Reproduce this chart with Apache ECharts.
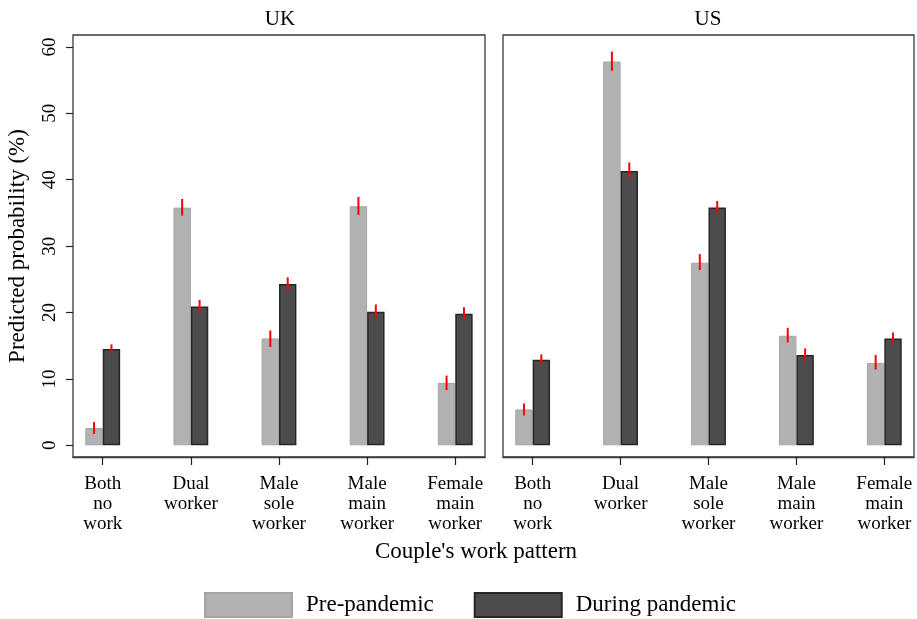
<!DOCTYPE html>
<html>
<head>
<meta charset="utf-8">
<script src="https://cdn.jsdelivr.net/npm/echarts@6/dist/echarts.min.js"></script>
<style>html,body{margin:0;padding:0;background:#fff}#c{width:917px;height:619px}</style>
</head>
<body>
<div id="c"></div>
<script>
// ---- data ----
const categories = ['Both\nno\nwork', 'Dual\nworker', 'Male\nsole\nworker', 'Male\nmain\nworker', 'Female\nmain\nworker'];
const panels = ['UK', 'US'];
const seriesNames = ['Pre-pandemic', 'During pandemic'];
const yTicks = [0, 10, 20, 30, 40, 50, 60];

const ukPre    = [2.6, 35.8, 16.1, 36.0, 9.4];
const ukPreLo  = [1.7, 34.6, 14.8, 34.7, 8.3];
const ukPreHi  = [3.5, 37.1, 17.3, 37.4, 10.5];
const ukDur    = [14.5, 20.9, 24.3, 20.1, 19.8];
const ukDurLo  = [13.9, 20.0, 23.4, 19.2, 19.0];
const ukDurHi  = [15.2, 21.9, 25.3, 21.2, 20.8];

const usPre    = [5.4, 57.8, 27.5, 16.5, 12.4];
const usPreLo  = [4.5, 56.4, 26.4, 15.5, 11.4];
const usPreHi  = [6.3, 59.3, 28.8, 17.7, 13.6];
const usDur    = [12.9, 41.3, 35.8, 13.6, 16.1];
const usDurLo  = [12.2, 40.3, 34.9, 12.8, 15.3];
const usDurHi  = [13.7, 42.6, 36.8, 14.6, 17.0];

// ---- styles ----
const FONT = "'Liberation Serif', 'Times New Roman', serif";
const BAR_W = 17.4;
const lightFill = '#b2b2b2', lightBorder = '#a4a4a4';
const darkFill = '#4c4c4c', darkBorder = '#262626';
const catIdx = categories.map((_, i) => i);

const grids = [
  {left: 73, top: 35, width: 412, height: 422},
  {left: 503, top: 35, width: 411, height: 422}
];

function xAxis(gi) {
  return {
    type: 'value', gridIndex: gi, min: -0.3375, max: 4.3375,
    splitLine: {show: false},
    axisLine: {show: true, onZero: false, lineStyle: {color: '#3a3a3a', width: 1.3}},
    axisTick: {show: true, inside: false, customValues: catIdx, length: 8, lineStyle: {color: '#222', width: 1.2}},
    axisLabel: {customValues: catIdx, formatter: v => categories[Math.round(v)], margin: 17,
      fontFamily: FONT, fontSize: 19, lineHeight: 20, color: '#000'}
  };
}
function yAxis(gi, showLabels) {
  return {
    type: 'value', gridIndex: gi, min: -1.76, max: 61.8,
    splitLine: {show: false}, axisLine: {show: false, onZero: false},
    axisTick: {show: showLabels, customValues: yTicks, length: 7, lineStyle: {color: '#222', width: 1.2}},
    axisLabel: {show: showLabels, customValues: yTicks, rotate: 90, margin: 13,
      fontFamily: FONT, fontSize: 19, color: '#000'},
    name: showLabels ? 'Predicted probability (%)' : '',
    nameLocation: 'middle', nameGap: 44, nameRotate: 90,
    nameTextStyle: {fontFamily: FONT, fontSize: 23, color: '#000'}
  };
}

function pairs(vals) { return vals.map((v, i) => [i, v]); }
function errData(lo, hi) { return lo.map((l, i) => [i, l, hi[i]]); }

function barSeries(name, gi, vals, fill, border, bw) {
  return {
    name: name, type: 'bar', xAxisIndex: gi, yAxisIndex: gi,
    barWidth: BAR_W, barGap: '0%', data: pairs(vals),
    itemStyle: {color: fill, borderColor: border, borderWidth: bw},
    emphasis: {disabled: true}, animation: false
  };
}
function errSeries(gi, lo, hi, offset) {
  return {
    type: 'custom', xAxisIndex: gi, yAxisIndex: gi, z: 10, animation: false,
    data: errData(lo, hi),
    renderItem: function (params, api) {
      const a = api.coord([api.value(0), api.value(1)]);
      const b = api.coord([api.value(0), api.value(2)]);
      return {
        type: 'line',
        shape: {x1: a[0] + offset, y1: a[1], x2: b[0] + offset, y2: b[1]},
        style: {stroke: '#ff0000', lineWidth: 2}
      };
    }
  };
}

const off = BAR_W / 2;
const option = {
  backgroundColor: '#fff',
  animation: false,
  grid: grids.map(g => Object.assign({show: true, borderColor: '#3a3a3a', borderWidth: 1.3, backgroundColor: 'transparent'}, g)),
  xAxis: [xAxis(0), xAxis(1)],
  yAxis: [yAxis(0, true), yAxis(1, false)],
  legend: {
    data: seriesNames, left: 204, top: 592, padding: 0, itemWidth: 87, itemHeight: 24, itemGap: 40,
    icon: 'rect',
    textStyle: {fontFamily: FONT, fontSize: 23, color: '#000', padding: [0, 0, 0, 9]}
  },
  graphic: [
    {type: 'text', style: {x: 280, y: 19, text: panels[0], textAlign: 'center', textVerticalAlign: 'middle', font: '21px ' + FONT, fill: '#000'}},
    {type: 'text', style: {x: 708, y: 19, text: panels[1], textAlign: 'center', textVerticalAlign: 'middle', font: '21px ' + FONT, fill: '#000'}},
    {type: 'text', style: {x: 476, y: 552, text: "Couple's work pattern", textAlign: 'center', textVerticalAlign: 'middle', font: '23px ' + FONT, fill: '#000'}}
  ],
  series: [
    barSeries(seriesNames[0], 0, ukPre, lightFill, lightBorder, 1),
    barSeries(seriesNames[1], 0, ukDur, darkFill, darkBorder, 1.5),
    barSeries(seriesNames[0], 1, usPre, lightFill, lightBorder, 1),
    barSeries(seriesNames[1], 1, usDur, darkFill, darkBorder, 1.5),
    errSeries(0, ukPreLo, ukPreHi, -off),
    errSeries(0, ukDurLo, ukDurHi, off),
    errSeries(1, usPreLo, usPreHi, -off),
    errSeries(1, usDurLo, usDurHi, off)
  ]
};
const chart = echarts.init(document.getElementById('c'), null, {renderer: 'canvas'});
chart.setOption(option);
</script>
</body>
</html>
